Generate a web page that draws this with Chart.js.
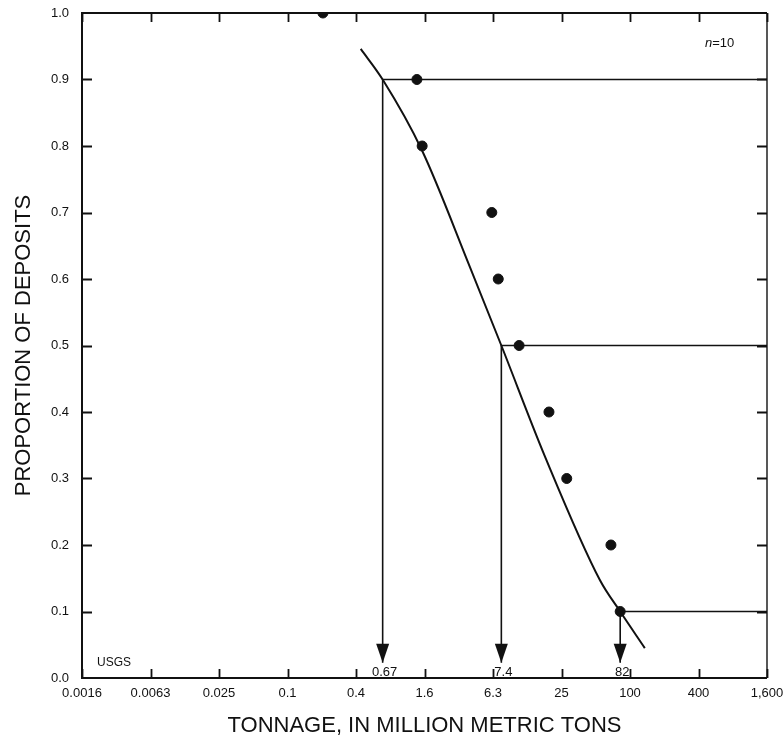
<!DOCTYPE html>
<html>
<head>
<meta charset="utf-8">
<script src="https://cdn.jsdelivr.net/npm/chart.js@4.4.1/dist/chart.umd.min.js"></script>
<style>
    html, body { margin: 0; padding: 0; background: #fff; }
    #wrap { width: 784px; height: 739px; }
</style>
</head>
<body>
<div id="wrap"><canvas id="chart" width="784" height="739"></canvas></div>
<script>
// Ticks del eje X (cada uno x4) y las etiquetas tal como salen en la figura
const xTickValues = [0.00152587890625, 0.006103515625, 0.0244140625, 0.09765625, 0.390625, 1.5625, 6.25, 25, 100, 400, 1600];
const xTickLabels = ['0.0016', '0.0063', '0.025', '0.1', '0.4', '1.6', '6.3', '25', '100', '400', '1,600'];
const yTickValues = [0, 0.1, 0.2, 0.3, 0.4, 0.5, 0.6, 0.7, 0.8, 0.9, 1.0];

// Depósitos observados (n=10)
const depositTonnage = [0.2, 1.34, 1.49, 6.1, 6.95, 10.6, 19.4, 27.8, 68, 82];
const depositProportion = [1.0, 0.9, 0.8, 0.7, 0.6, 0.5, 0.4, 0.3, 0.2, 0.1];

// Curva ajustada
const curveTonnage = [0.43, 0.67, 1.48, 3.92, 7.4, 17.9, 54.5, 82, 135];
const curveProportion = [0.946, 0.9, 0.794, 0.618, 0.5, 0.333, 0.147, 0.1, 0.045];

// Percentiles 90 / 50 / 10
const percentileTonnage = [0.67, 7.4, 82];
const percentileProportion = [0.9, 0.5, 0.1];
const percentileLabels = ['0.67', '7.4', '82'];
const arrowTip = 0.023;

const FONT = "'Liberation Sans', Arial, Helvetica, sans-serif";
const INK = '#111';

const percentileDatasets = percentileTonnage.map((t, i) => ({
    type: 'line',
    label: 'p' + i,
    data: [
        { x: xTickValues[xTickValues.length - 1], y: percentileProportion[i] },
        { x: t, y: percentileProportion[i] },
        { x: t, y: arrowTip }
    ],
    borderColor: INK,
    borderWidth: 1.6,
    pointRadius: 0,
    tension: 0,
    arrowLabel: percentileLabels[i]
}));

// marco, ticks hacia adentro, flechas y textos sueltos
const decorPlugin = {
    id: 'decor',
    beforeDatasetsDraw(chart) {
        const { ctx, chartArea: a, scales: { x, y } } = chart;
        ctx.save();
        ctx.strokeStyle = INK;
        ctx.lineWidth = 2;
        ctx.beginPath();
        ctx.moveTo(a.right, a.top);
        ctx.lineTo(a.left, a.top);
        ctx.lineTo(a.left, a.bottom);
        ctx.lineTo(a.right, a.bottom);
        ctx.stroke();
        ctx.lineWidth = 1.4;
        ctx.beginPath();
        ctx.moveTo(a.right, a.top);
        ctx.lineTo(a.right, a.bottom);
        ctx.stroke();

        ctx.lineWidth = 1.8;
        ctx.beginPath();
        xTickValues.forEach(v => {
            const px = Math.round(x.getPixelForValue(v)) + 0.5;
            ctx.moveTo(px, a.bottom);
            ctx.lineTo(px, a.bottom - 9);
            ctx.moveTo(px, a.top);
            ctx.lineTo(px, a.top + 9);
        });
        yTickValues.slice(1, -1).forEach(v => {
            const py = Math.round(y.getPixelForValue(v)) + 0.5;
            ctx.moveTo(a.left, py);
            ctx.lineTo(a.left + 10, py);
            ctx.moveTo(a.right, py);
            ctx.lineTo(a.right - 10, py);
        });
        ctx.stroke();

        ctx.fillStyle = INK;
        ctx.font = `12px ${FONT}`;
        ctx.textBaseline = 'alphabetic';
        ctx.textAlign = 'left';
        ctx.fillText('USGS', a.left + 15, a.bottom - 12);

        ctx.font = `italic 13px ${FONT}`;
        ctx.fillText('n', a.right - 62, a.top + 34);
        const nw = ctx.measureText('n').width;
        ctx.font = `13px ${FONT}`;
        ctx.fillText('=10', a.right - 62 + nw, a.top + 34);
        ctx.restore();
    },
    afterDatasetsDraw(chart) {
        const { ctx } = chart;
        ctx.save();
        ctx.fillStyle = INK;
        chart.data.datasets.forEach((ds, i) => {
            if (!ds.arrowLabel) return;
            const pts = chart.getDatasetMeta(i).data;
            const tip = pts[pts.length - 1];
            ctx.beginPath();
            ctx.moveTo(tip.x, tip.y);
            ctx.lineTo(tip.x - 6.5, tip.y - 19);
            ctx.lineTo(tip.x + 6.5, tip.y - 19);
            ctx.closePath();
            ctx.fill();
            ctx.font = `13px ${FONT}`;
            ctx.textAlign = 'center';
            ctx.textBaseline = 'middle';
            ctx.fillText(ds.arrowLabel, tip.x + 2, tip.y + 10);
        });
        ctx.restore();
    }
};

new Chart(document.getElementById('chart'), {
    type: 'scatter',
    data: {
        datasets: [
            {
                label: 'Depósitos',
                data: depositTonnage.map((t, i) => ({ x: t, y: depositProportion[i] })),
                backgroundColor: INK,
                borderColor: INK,
                pointRadius: 5,
                pointHoverRadius: 5
            },
            {
                type: 'line',
                label: 'Curva',
                data: curveTonnage.map((t, i) => ({ x: t, y: curveProportion[i] })),
                borderColor: INK,
                borderWidth: 2,
                pointRadius: 0,
                cubicInterpolationMode: 'monotone'
            },
            ...percentileDatasets
        ]
    },
    options: {
        responsive: false,
        animation: false,
        events: [],
        layout: { padding: { left: 0, top: 13, right: 17, bottom: 0 } },
        plugins: { legend: { display: false }, tooltip: { enabled: false } },
        scales: {
            x: {
                type: 'logarithmic',
                min: xTickValues[0],
                max: xTickValues[xTickValues.length - 1],
                afterBuildTicks: s => { s.ticks = xTickValues.map(v => ({ value: v })); },
                afterFit: s => { s.height = 61; s.paddingLeft = 0; s.paddingRight = 0; },
                grid: { display: false, drawTicks: false },
                border: { display: false },
                ticks: {
                    autoSkip: false,
                    maxRotation: 0,
                    padding: 8,
                    color: INK,
                    font: { family: FONT, size: 13 },
                    callback: (v, i) => xTickLabels[i]
                },
                title: {
                    display: true,
                    text: 'TONNAGE, IN MILLION METRIC TONS',
                    color: INK,
                    font: { family: FONT, size: 22 },
                    padding: { top: 0, bottom: 0 }
                }
            },
            y: {
                min: 0,
                max: 1,
                afterBuildTicks: s => { s.ticks = yTickValues.map(v => ({ value: v })); },
                afterFit: s => { s.width = 82; s.paddingTop = 0; s.paddingBottom = 0; },
                grid: { display: false, drawTicks: false },
                border: { display: false },
                ticks: {
                    padding: 13,
                    color: INK,
                    font: { family: FONT, size: 13 },
                    callback: v => v.toFixed(1)
                },
                title: {
                    display: true,
                    text: 'PROPORTION OF DEPOSITS',
                    color: INK,
                    font: { family: FONT, size: 22 },
                    padding: { top: 11, bottom: 0 }
                }
            }
        }
    },
    plugins: [decorPlugin]
});
</script>
</body>
</html>
